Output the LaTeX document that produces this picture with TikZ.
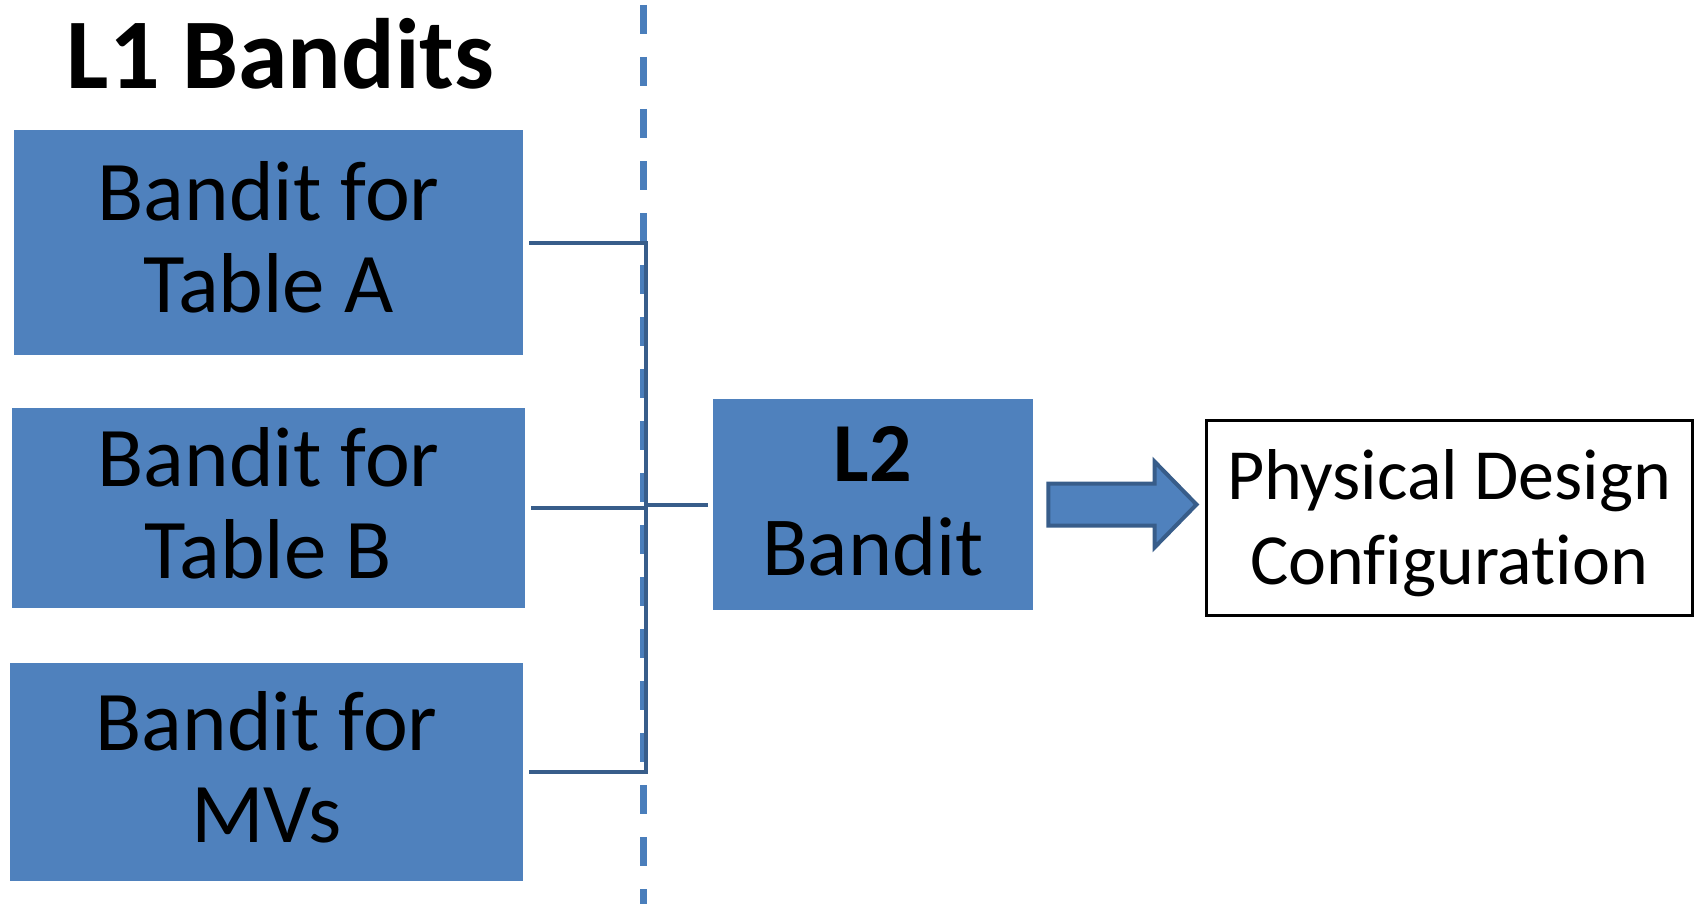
\documentclass[tikz,border=0pt]{standalone}
\usepackage{fontspec}
\setmainfont{Carlito}[Ligatures=NoCommon]
\usetikzlibrary{calc}
\definecolor{boxblue}{HTML}{4F81BD}
\definecolor{edgeblue}{HTML}{385D8A}
\definecolor{dashblue}{HTML}{4A7EBB}
% struts that nudge the text block up or down inside a box
\newcommand{\lowpad}[1]{\rule[-#1]{0pt}{#1}}
\newcommand{\toppad}[1]{\rule{0pt}{\dimexpr\fontcharht\font`l+#1\relax}}
\tikzset{
  bandit/.style={rectangle, fill=boxblue, draw=none, inner sep=0pt, align=center,
                 font=\fontsize{42.5}{46}\selectfont},
  result/.style={rectangle, fill=white, draw=black, line width=1.5pt, inner sep=0pt,
                 align=center, font=\fontsize{36}{42.5}\selectfont},
  link/.style={draw=edgeblue, line width=2pt},
  divider/.style={draw=dashblue, line width=3.5pt, dash pattern=on 14.5pt off 11.5pt},
  bigarrow/.style={fill=boxblue, draw=edgeblue, line width=2pt, line join=miter}
}
\begin{document}
\begin{tikzpicture}[x=0.5pt, y=-0.5pt]
\useasboundingbox (0,0) rectangle (1695,904);

% heading
\node[anchor=base, font=\fontsize{50}{60}\selectfont\bfseries] (title) at (280.5,89) {L1 Bandits};

% level-one bandits
\node[bandit, minimum width=509*0.5pt, minimum height=225*0.5pt] (A) at (268.5,242.5) {Bandit for\\Table A\lowpad{5.4pt}};
\node[bandit, minimum width=513*0.5pt, minimum height=200*0.5pt] (B) at (268.5,508) {Bandit for\\Table B\lowpad{5.4pt}};
\node[bandit, minimum width=513*0.5pt, minimum height=218*0.5pt] (MV) at (266.5,772) {Bandit for\\MVs\lowpad{5.4pt}};

% level-two bandit and its output
\node[bandit, minimum width=320*0.5pt, minimum height=211*0.5pt, font=\fontsize{42}{47}\selectfont] (L2) at (873,504.5) {\textbf{L2}\\Bandit\lowpad{3.2pt}};
\node[result, minimum width=486*0.5pt, minimum height=195*0.5pt] (PD) at (1449,517.5) {\toppad{6pt}Physical Design\\Configuration};

% dashed separator between the two levels
\coordinate (dtop) at (643.5,5);
\coordinate (dbot) at (643.5,904);
\draw[divider] (dtop) -- (dbot);

% bracket joining the level-one bandits
\coordinate (spine) at (646,0);
\draw[link] ($(A.east)+(6,0)$) -- (A.east -| spine) -- (MV.east -| spine) -- ($(MV.east)+(6,0)$);
\draw[link] ($(B.east)+(6,0)$) -- (B.east -| spine);
\draw[link] (spine |- L2.west) -- ($(L2.west)+(-5,0)$);

% block arrow towards the configuration
\coordinate (as) at ($(L2.east)+(15,0)$);
\coordinate (at) at ($(PD.west)+(-8,-13)$);
\draw[bigarrow] ($(as)+(0,-21)$) -- ($(at)+(-42,-21)$) -- ($(at)+(-42,-43)$) -- (at)
  -- ($(at)+(-42,43)$) -- ($(at)+(-42,21)$) -- ($(as)+(0,21)$) -- cycle;
\end{tikzpicture}
\end{document}
